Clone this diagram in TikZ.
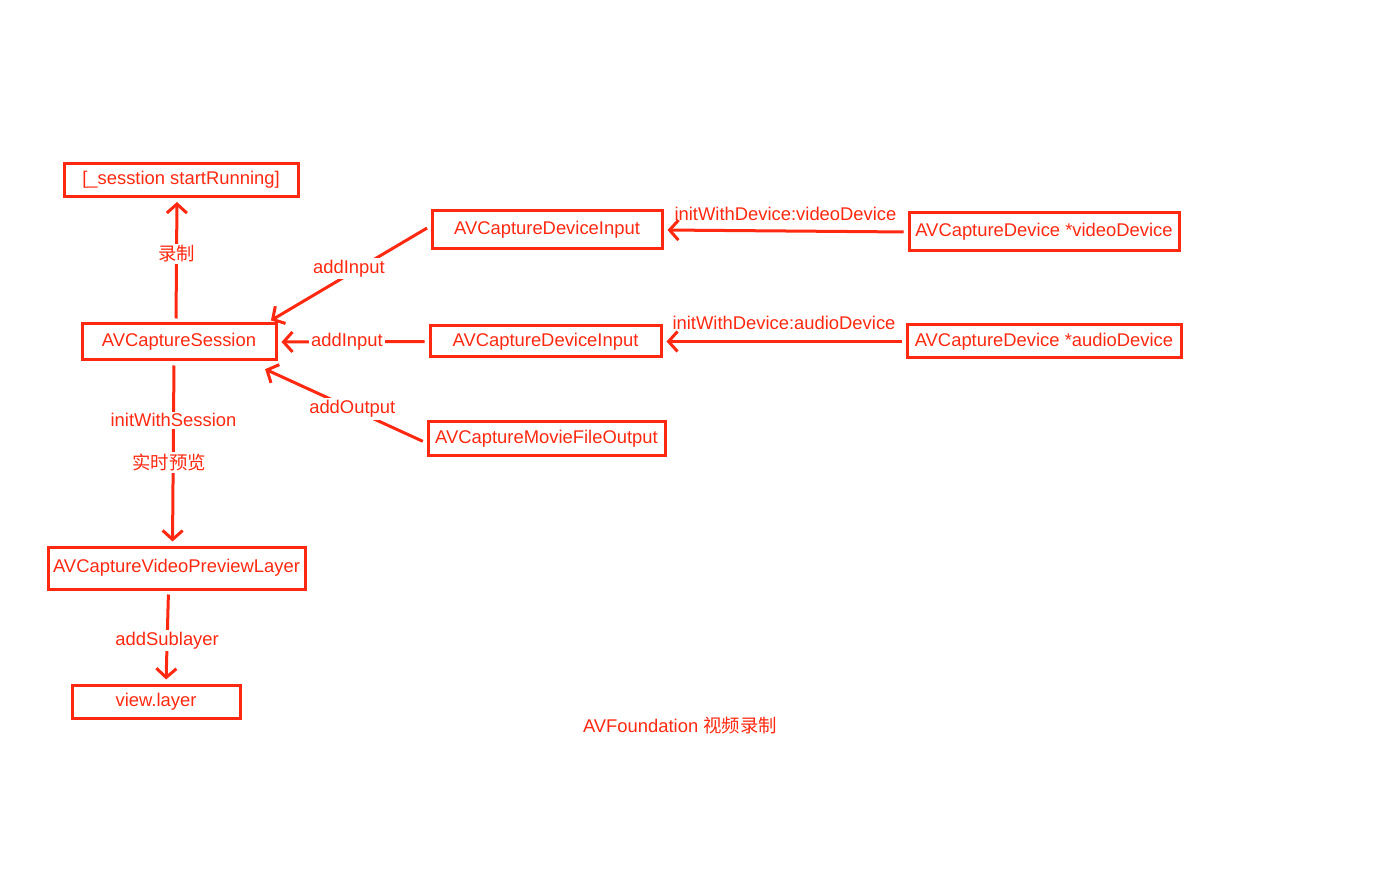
\documentclass[tikz,border=0pt]{standalone}
\usepackage{fontspec}
\setmainfont{Liberation Sans}
\newfontfamily\cjk{Noto Sans CJK SC}
\usetikzlibrary{arrows.meta}
\definecolor{avred}{RGB}{255,40,16}
\tikzset{
  box/.style={draw=avred, line width=1.5pt, text=avred, inner sep=0pt},
  arr/.style={draw=avred, line width=1.5pt, -{Straight Barb[length=4.5pt,width=10pt]},
    shorten <=2pt, shorten >=2pt},
  lbl/.style={text=avred, fill=white, inner sep=1pt}
}
\begin{document}
\begin{tikzpicture}[x=0.5pt, y=-0.5pt, font=\fontsize{9.2}{11}\selectfont]
\useasboundingbox (0,0) rectangle (1392,871);
% left column
\node[box, minimum width=117pt, minimum height=16.5pt] (run) at (181,180) {[\_sesstion startRunning]};
\node[box, minimum width=97pt, minimum height=18pt] (sess) at (179,342) {AVCaptureSession};
\node[box, minimum width=128.5pt, minimum height=21pt] (prev) at (176.5,568) {AVCaptureVideoPreviewLayer};
\node[box, minimum width=84pt, minimum height=16.5pt] (view) at (156,701.5) {view.layer};
% inputs and output
\node[box, minimum width=115pt, minimum height=19pt] (din1) at (547,230) {AVCaptureDeviceInput};
\node[box, minimum width=115.5pt, minimum height=15.5pt] (din2) at (545.5,341.5) {AVCaptureDeviceInput};
\node[box, minimum width=118.5pt, minimum height=17pt] (mout) at (546.5,439) {AVCaptureMovieFileOutput};
% devices
\node[box, minimum width=135pt, minimum height=19pt] (vdev) at (1044,232) {AVCaptureDevice *videoDevice};
\node[box, minimum width=137pt, minimum height=16.5pt] (adev) at (1044,341.5) {AVCaptureDevice *audioDevice};
% caption
\node[text=avred] (title) at (680,726) {AVFoundation {\cjk 视频录制}};
% connectors
\draw[arr] ([xshift=-1.5pt]sess.north) -- ([xshift=-2pt]run.south)
  node[lbl, pos=0.55] {\cjk 录制};
\draw[arr] ([yshift=2pt]din1.west) -- ([xshift=-5pt]sess.north east)
  node[lbl, pos=0.5, yshift=3pt] {addInput};
\draw[arr] (din2.west) -- (sess.east)
  node[lbl, pos=0.54] {addInput};
\draw[arr] ([yshift=-2pt]mout.west) -- ([xshift=-8pt,yshift=-3pt]sess.south east)
  node[lbl, pos=0.45] {addOutput};
\draw[arr] (vdev.west) -- (din1.east)
  node[text=avred, pos=0.5, above=1pt] {initWithDevice:videoDevice};
\draw[arr] (adev.west) -- (din2.east)
  node[text=avred, pos=0.5, above=2pt] {initWithDevice:audioDevice};
\draw[arr] ([xshift=-2.5pt]sess.south) -- ([xshift=-2pt]prev.north)
  node[lbl, pos=0.32] {initWithSession}
  node[lbl, pos=0.55, xshift=-2pt] {\cjk 实时预览};
\draw[arr] ([xshift=-4pt]prev.south) -- ([xshift=5pt]view.north)
  node[lbl, pos=0.54] {addSublayer};
\end{tikzpicture}
\end{document}
